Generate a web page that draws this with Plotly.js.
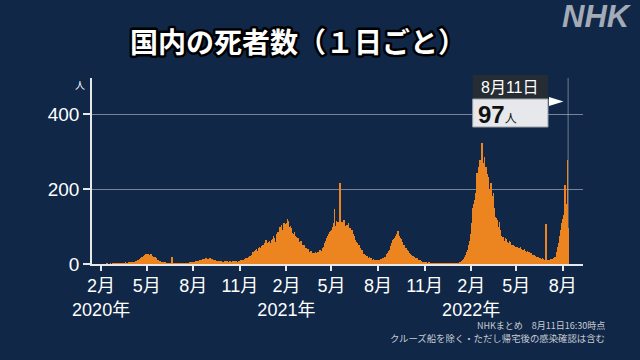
<!DOCTYPE html>
<html><head><meta charset="utf-8">
<script src="https://cdn.plot.ly/plotly-3.0.1.min.js"></script>
<style>
html,body{margin:0;padding:0;background:#102748;}
#chart{width:640px;height:360px;}
.gtitle{stroke:#000;stroke-width:5px;paint-order:stroke fill;stroke-linejoin:round;}
</style></head><body><div id="chart"></div>
<script>
// Daily deaths, Japan. One line per month.
const start2020 = '2020-02-13';
const deaths2020 = [
  1,0,0,0,0,0,0,1,0,0,0,1,0,1,0,1,1,
  0,1,1,0,1,2,0,1,1,0, 2,1,1,0,2,1,0,2,1,3, 1,0,1,2,1,2,3,2,3,2, 4,
  3,2,4,3,5,4,6,5,4,7, 8,6,9,11,10,12,14,11,13,16, 15,18,20,17,21,19,24,22,26,23,
  28,25,22,27,24,20,23,19,21,26, 18,22,17,19,16,14,18,12,15,13, 10,11,9,12,8,7,9,6,5,4, 6,
  3,2,4,3,2,1,3,2,1,2, 1,2,0,1,2,1,0,2,1,19, 1,0,1,2,1,0,1,1,2,0,
  1,0,1,2,0,1,0,1,0,2, 1,0,1,0,1,2,1,0,1,2, 1,0,2,1,3,1,2,3,2,4, 3,
  4,3,5,6,4,7,6,8,5,7, 9,6,10,8,11,9,7,12,10,13, 11,9,12,14,10,15,12,13,11,14, 12,
  13,10,15,12,11,9,13,10,12,8, 11,9,10,7,9,8,6,9,7,8, 5,7,6,8,5,7,6,4,6,5,
  6,5,7,4,6,8,5,7,6,4, 5,7,6,8,5,4,6,7,5,6, 8,4,5,7,6,5,4,6,7,8, 6,
  8,6,10,9,7,11,9,8,12,10, 13,11,15,12,14,17,13,19,16,18, 22,20,17,25,23,28,31,26,33,35,
  30,38,33,41,36,29,34,43,39,45, 37,42,35,48,44,52,46,40,50,47, 55,58,64,51,57,49,45,53,59,62, 56
];
const start2021 = '2021-01-01';
const deaths2021 = [
  52,48,57,63,66,60,75,70,64,58, 55,72,80,78,85,73,68,90,99,94, 88,103,92,85,79,96,110,100,106,92, 84,
  95,110,121,115,104,98,86,78,102,97, 88,82,75,70,63,80,85,74,72,73, 60,55,68,70,62,50,45,58,
  55,62,48,52,45,40,35,50,47,43, 38,42,36,30,28,41,37,33,30,27, 25,34,31,29,26,24,22,30,27,25, 32,
  28,30,26,33,25,22,35,38,31,36, 29,27,40,42,37,45,48,56,52,62, 70,58,66,75,80,68,85,78,88,82,
  90,75,98,85,105,110,148,95,102,88, 115,108,98,112,104,90,118,216,120,110, 106,112,95,100,108,118,92,102,96,88, 84,
  105,98,92,110,86,80,95,88,82,76, 90,72,68,80,74,70,65,60,58,52, 55,48,45,50,42,40,44,38,35,37,
  30,26,22,28,20,18,24,19,16,21, 15,17,14,12,18,13,11,15,10,12, 9,11,14,8,10,7,12,9,11,8, 10,
  8,12,9,7,11,10,14,9,13,11, 16,12,15,18,14,20,17,22,26,24, 30,28,34,38,35,42,48,45,55,60, 64,
  58,66,70,62,75,72,80,68,85,89, 78,74,64,70,60,66,55,58,52,48, 45,50,42,38,44,40,35,38,32,36,
  30,28,25,26,22,24,20,18,22,17, 19,15,16,13,14,12,15,10,11,9, 12,8,10,7,6,8,5,4,6,3, 5,
  3,2,4,1,3,2,0,2,1,3, 1,2,0,1,2,1,0,1,2,0, 1,0,2,1,0,1,2,0,1,0,
  1,0,1,2,0,1,0,1,0,1, 2,0,0,1,0,1,0,2,1,0, 1,0,1,0,0,1,2,0,1,0, 1
];
const start2022 = '2022-01-01';
const deaths2022 = [
  1,0,1,2,0,1,2,1,3,2, 4,5,8,7,10,12,11,14,16,20, 18,25,28,32,30,38,42,50,55,62, 73,
  80,95,110,120,150,135,160,171,165,180, 190,175,242,210,230,260,236,250,277,245, 265,322,280,270,255,245,286,240,
  251,260,230,215,240,228,233,200,185,170, 205,215,197,182,165,140,189,150,130,126, 115,110,122,118,105,96,85,100,112,91, 88,
  75,70,68,60,72,65,58,62,55,70, 66,52,48,60,57,50,45,62,58,55, 48,44,52,46,40,50,47,42,38,45,
  40,36,45,38,34,30,42,39,33,46, 41,35,30,38,34,28,40,36,31,27, 33,29,35,30,25,32,28,24,27,30, 26,
  24,20,22,18,23,16,19,21,15,17, 20,14,12,18,15,13,16,11,14,10, 12,15,9,13,11,10,12,9,107,11,
  10,8,12,7,9,11,6,13,10,8, 14,9,12,15,11,18,13,16,20,25, 32,40,46,38,55,62,75,91,85,102, 110,
  120,132,128,150,211,145,160,155,150,277, 97
];

const tickDates  = ['2020-02-01','2020-05-01','2020-08-01','2020-11-01','2021-02-01','2021-05-01','2021-08-01','2021-11-01','2022-02-01','2022-05-01','2022-08-01'];
const tickMonths = ['2月','5月','8月','11月','2月','5月','8月','11月','2月','5月','8月'];
const tickYears  = ['2020年','','','','2021年','','','','2022年','',''];
const yTicks = [0, 200, 400];
const calloutDateLabel = '8月11日';
const titleText = '国内の死者数（１日ごと）';
const noteLines = ['NHKまとめ　8月11日16:30時点', 'クルーズ船を除く・ただし帰宅後の感染確認は含む'];

function dates(start, n) {
  const out = []; const d = new Date(start + 'T00:00:00Z');
  for (let i = 0; i < n; i++) { out.push(d.toISOString().slice(0,10)); d.setUTCDate(d.getUTCDate()+1); }
  return out;
}
const xs = [].concat(dates(start2020, deaths2020.length), dates(start2021, deaths2021.length), dates(start2022, deaths2022.length));
const ys = [].concat(deaths2020, deaths2021, deaths2022);
const lastX = xs[xs.length-1], lastY = ys[ys.length-1];

// pixel helpers for plot area
const L = 92, R = 583, T = 78, B = 264;
const px = x => (x - L) / (R - L);
const py = y => (B - y) / (B - T);

const FONT = 'Liberation Sans, Noto Sans CJK JP, sans-serif';
const CJK = 'Noto Sans CJK JP, sans-serif';

const trace = {
  type: 'bar', x: xs, y: ys,
  marker: {color: '#ec8520', line: {width: 0}},
  hoverinfo: 'skip'
};

const layout = {
  width: 640, height: 360,
  paper_bgcolor: '#102748', plot_bgcolor: '#102748',
  margin: {l: L, r: 640 - R, t: T, b: 360 - B},
  bargap: 0,
  showlegend: false,
  hovermode: false,
  title: {
    text: titleText,
    font: {family: CJK, size: 28, color: '#ffffff', weight: 'bold'},
    x: 298/640, xanchor: 'center', xref: 'container', yref: 'container',
    y: 1 - 43/360, yanchor: 'middle'
  },
  xaxis: {
    type: 'date', range: ['2020-01-14', '2022-09-10'],
    tickmode: 'array', tickvals: tickDates, tickangle: 0,
    ticktext: tickMonths.map((m, i) => tickYears[i] ? m + '<br>' + tickYears[i] : m),
    ticks: 'outside', ticklen: 5, tickwidth: 1.5, tickcolor: '#e8e8e8',
    showline: true, linecolor: '#e8e8e8', linewidth: 1.5,
    showgrid: false, zeroline: false, fixedrange: true,
    tickfont: {family: FONT, size: 18, color: '#ffffff'}
  },
  yaxis: {
    range: [0, 496], tickmode: 'array', tickvals: yTicks, ticktext: yTicks.map(String),
    ticks: 'outside', ticklen: 7, tickwidth: 1.5, tickcolor: '#e8e8e8',
    showline: true, linecolor: '#e8e8e8', linewidth: 1.5,
    showgrid: true, gridcolor: 'rgba(190,196,206,0.6)', gridwidth: 1.2,
    zeroline: false, fixedrange: true,
    tickfont: {family: FONT, size: 19, color: '#ffffff'}
  },
  shapes: [
    {type: 'line', xref: 'x', yref: 'paper', x0: lastX + ' 14:00', x1: lastX + ' 14:00', y0: 0, y1: 1, layer: 'below',
     line: {color: 'rgba(150,160,175,0.7)', width: 1}},
    {type: 'rect', xref: 'paper', yref: 'paper', x0: px(472.7), x1: px(548), y0: py(99), y1: py(75),
     fillcolor: '#262c33', line: {width: 0}},
    {type: 'rect', xref: 'paper', yref: 'paper', x0: px(472.7), x1: px(548), y0: py(127), y1: py(99),
     fillcolor: '#e6e8ec', line: {color: '#9aa0a8', width: 1}},
    {type: 'path', xref: 'paper', yref: 'paper',
     path: `M ${px(549)} ${py(97)} L ${px(563.5)} ${py(101.5)} L ${px(549)} ${py(106)} Z`,
     fillcolor: '#ffffff', line: {width: 0}}
  ],
  annotations: [
    {xref: 'paper', yref: 'paper', x: px(510), y: py(87), text: calloutDateLabel, showarrow: false,
     xanchor: 'center', yanchor: 'middle', font: {family: FONT, size: 16, color: '#ffffff'}},
    {xref: 'paper', yref: 'paper', x: px(476), y: py(114), showarrow: false, xanchor: 'left', yanchor: 'middle',
     text: '<b>' + lastY + '</b><span style="font-size:12px">人</span>',
     font: {family: FONT, size: 24, color: '#111111'}},
    {xref: 'paper', yref: 'paper', x: px(80), y: py(84), text: '人', showarrow: false,
     xanchor: 'center', yanchor: 'middle', font: {family: CJK, size: 10, color: '#ffffff'}},
    {xref: 'paper', yref: 'paper', x: px(634), y: py(16), text: '<b><i>NHK</i></b>', showarrow: false,
     xanchor: 'right', yanchor: 'middle', font: {family: 'Liberation Sans, sans-serif', size: 31, color: '#a3abb6'}},
    {xref: 'paper', yref: 'paper', x: px(607), y: py(325.5), text: noteLines[0], showarrow: false,
     xanchor: 'right', yanchor: 'middle', font: {family: CJK, size: 9, color: '#c8ccd2'}},
    {xref: 'paper', yref: 'paper', x: px(607), y: py(337.5), text: noteLines[1], showarrow: false,
     xanchor: 'right', yanchor: 'middle', font: {family: CJK, size: 9.4, color: '#c8ccd2'}}
  ]
};

Plotly.newPlot('chart', [trace], layout, {displayModeBar: false, responsive: false});
</script></body></html>
